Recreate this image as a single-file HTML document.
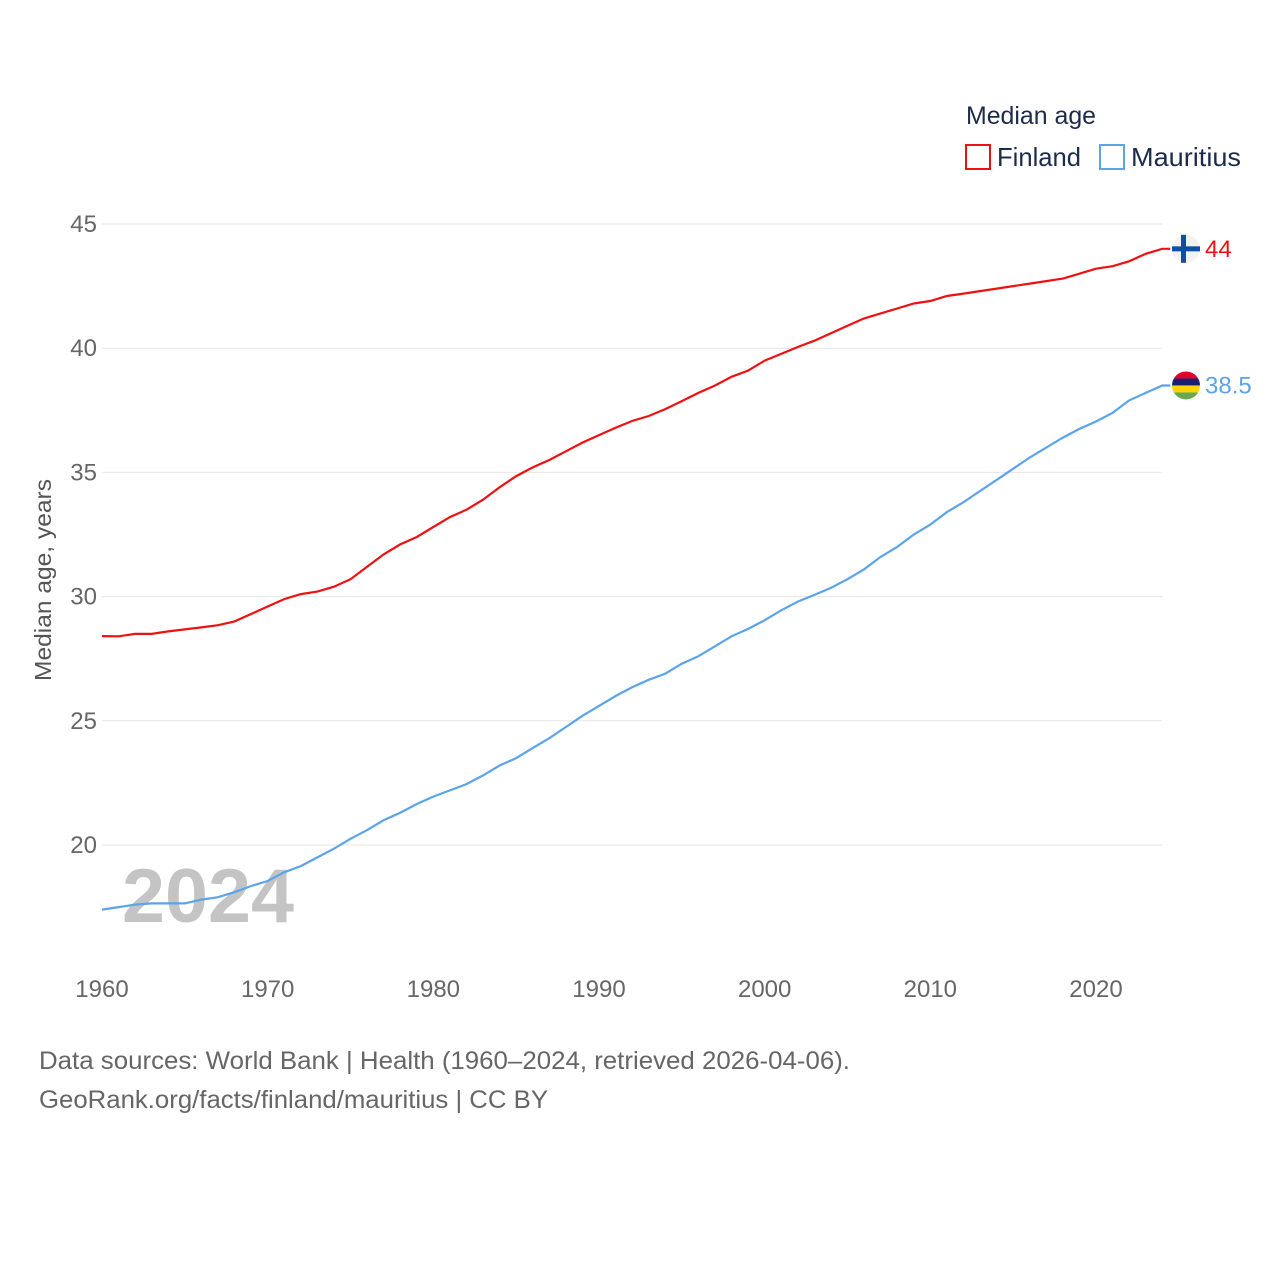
<!DOCTYPE html>
<html><head><meta charset="utf-8"><style>
body{margin:0;background:#fff;font-family:"Liberation Sans",sans-serif}
svg text{font-family:"Liberation Sans",sans-serif}
</style></head><body>
<svg id="chart" width="1280" height="1280" viewBox="0 0 1280 1280" xmlns="http://www.w3.org/2000/svg">
<rect width="1280" height="1280" fill="#fff"/>
<g id="grid"></g>
<g id="yticks"></g>
<g id="xticks"></g>
<text x="122" y="922" font-size="76" font-weight="bold" fill="#c4c4c4" textLength="172" lengthAdjust="spacingAndGlyphs">2024</text>
<g id="series"></g>
<text transform="translate(51,580) rotate(-90)" text-anchor="middle" font-size="23" fill="#555" textLength="202" lengthAdjust="spacingAndGlyphs">Median age, years</text>
<text x="966" y="124" font-size="25" fill="#1d2b4a" textLength="130" lengthAdjust="spacingAndGlyphs">Median age</text>
<rect x="966" y="145" width="24" height="24" fill="none" stroke="#ee1111" stroke-width="2"/>
<text x="997" y="166" font-size="26" fill="#1d2b4a" textLength="84" lengthAdjust="spacingAndGlyphs">Finland</text>
<rect x="1100" y="145" width="24" height="24" fill="none" stroke="#5ba4ea" stroke-width="2"/>
<text x="1131" y="166" font-size="26" fill="#1d2b4a" textLength="110" lengthAdjust="spacingAndGlyphs">Mauritius</text>
<text x="39" y="1069" font-size="25" fill="#666" textLength="811" lengthAdjust="spacingAndGlyphs">Data sources: World Bank | Health (1960–2024, retrieved 2026-04-06).</text>
<text x="39" y="1108" font-size="25" fill="#666" textLength="509" lengthAdjust="spacingAndGlyphs">GeoRank.org/facts/finland/mauritius | CC BY</text>
</svg>
<script>
const years=[];for(let y=1960;y<=2024;y++)years.push(y);
const finland=[28.41,28.4,28.5,28.5,28.6,28.68,28.76,28.85,29.0,29.3,29.6,29.9,30.1,30.2,30.4,30.7,31.2,31.7,32.1,32.4,32.8,33.2,33.5,33.9,34.4,34.85,35.2,35.5,35.85,36.2,36.5,36.8,37.07,37.27,37.55,37.87,38.2,38.5,38.85,39.1,39.5,39.77,40.05,40.3,40.6,40.9,41.2,41.4,41.6,41.8,41.9,42.1,42.2,42.3,42.4,42.5,42.6,42.7,42.8,43.0,43.2,43.3,43.5,43.8,44.0];
const mauritius=[17.4,17.5,17.6,17.65,17.65,17.65,17.8,17.9,18.1,18.35,18.55,18.9,19.15,19.5,19.85,20.25,20.6,21.0,21.3,21.65,21.95,22.2,22.45,22.8,23.2,23.5,23.9,24.3,24.75,25.2,25.6,26.0,26.35,26.65,26.9,27.3,27.6,28.0,28.4,28.7,29.05,29.45,29.8,30.07,30.35,30.7,31.1,31.6,32.0,32.5,32.9,33.4,33.8,34.25,34.7,35.15,35.6,36.0,36.4,36.75,37.05,37.4,37.9,38.2,38.5];
const yTicks=[20,25,30,35,40,45];
const xTicks=[1960,1970,1980,1990,2000,2010,2020];
const NS='http://www.w3.org/2000/svg';
const X=v=>102+(v-1960)*(994/60);
const Y=v=>224+(45-v)*24.84;
function mk(tag,attrs,parent){const e=document.createElementNS(NS,tag);for(const k in attrs)e.setAttribute(k,attrs[k]);parent.appendChild(e);return e;}
const grid=document.getElementById('grid'),yt=document.getElementById('yticks'),xt=document.getElementById('xticks'),ser=document.getElementById('series');
yTicks.forEach(t=>{
 const l=mk('line',{x1:102,x2:1162,y1:Y(t),y2:Y(t),stroke:'#e6e6e6','stroke-width':1},grid);
 
 
 const tx=mk('text',{x:97,y:Y(t)+8,'text-anchor':'end','font-size':24,fill:'#666'},yt);tx.textContent=t;
 
 
});
xTicks.forEach(t=>{
 const tx=mk('text',{x:X(t),y:997,'text-anchor':'middle','font-size':24,fill:'#666'},xt);tx.textContent=t;
 
 
});
function line(vals,color,name){
 const d=vals.map((v,i)=>(i?'L':'M')+X(years[i]).toFixed(1)+','+Y(v).toFixed(1)).join('')+'L'+(X(2024)+8)+','+Y(vals[vals.length-1]).toFixed(1);
 const p=mk('path',{d:d,fill:'none',stroke:color,'stroke-width':2.2},ser);
 
 
}
line(finland,'#ee1111','finland-line');
line(mauritius,'#5ba4ea','mauritius-line');
const fy=Y(finland[finland.length-1]),my=Y(mauritius[mauritius.length-1]);
const fg=mk('g',{},ser);


mk('circle',{cx:1186,cy:fy,r:14,fill:'#f2f2f2'},fg);
mk('rect',{x:1172,y:fy-2.5,width:28,height:5,fill:'#0a4fa8'},fg);
mk('rect',{x:1181,y:fy-14,width:5,height:28,fill:'#0a4fa8'},fg);
const fl=mk('text',{x:1205,y:fy+8,'font-size':24,fill:'#ee1111'},ser);fl.textContent='44';


const mg=mk('g',{},ser);


const cp=mk('clipPath',{id:'mc'},mg);mk('circle',{cx:1186,cy:my,r:14},cp);
['#e4002b','#1a206d','#ffd500','#6aa84f'].forEach((c,i)=>mk('rect',{x:1172,y:my-14+i*7,width:28,height:7,fill:c,'clip-path':'url(#mc)'},mg));
const ml=mk('text',{x:1205,y:my+8,'font-size':24,fill:'#5ba4ea'},ser);ml.textContent='38.5';


</script>
</body></html>
